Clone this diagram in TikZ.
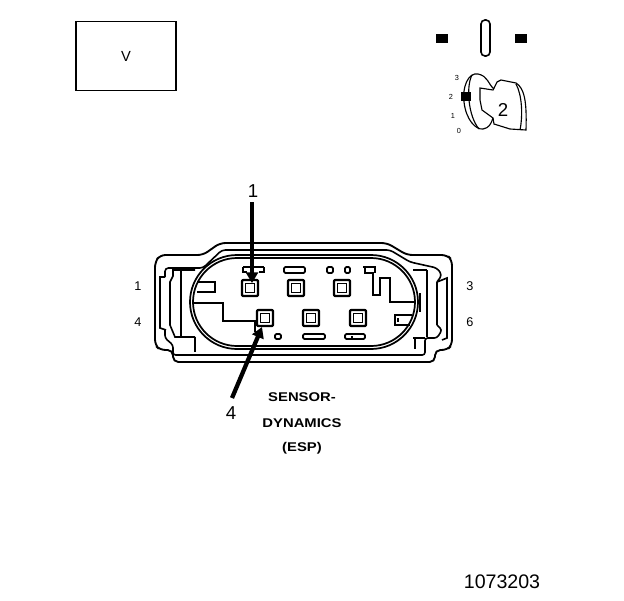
\documentclass[tikz,border=0pt]{standalone}
\usepackage{fontspec}
\setmainfont{Liberation Sans}
\usetikzlibrary{arrows.meta}
\tikzset{
 ln/.style={draw=black,line width=1.2pt,line join=miter,fill=none},
 thk/.style={draw=black,line width=1.7pt,line join=round},
 keyln/.style={draw=black,line width=0.85pt,fill=none},
 arrowline/.style={draw=black,line width=3.2pt,-{Triangle[length=8pt,width=9pt]}},
 pinlabel/.style={font=\fontsize{9.5}{12}\selectfont,inner sep=0pt},
 callout/.style={font=\fontsize{14}{16}\selectfont,inner sep=0pt},
 title/.style={font=\bfseries\fontsize{9.5}{11}\selectfont,inner sep=0pt,xscale=1.17},
 tiny/.style={font=\fontsize{5.5}{6}\selectfont,inner sep=0pt}
}
\newcommand{\pinbox}[2]{%
 \draw[thk,rounded corners=0.8pt] (#1-8,#2-8) rectangle (#1+8,#2+8);
 \draw[ln,line width=1pt] (#1-4.5,#2-4.5) rectangle (#1+4.5,#2+4.5);}
\begin{document}
\begin{tikzpicture}[x=0.75pt,y=-0.75pt]
\useasboundingbox (0,0) rectangle (624,600);
% V box
\node[draw=black,line width=0.9pt,minimum width=75pt,minimum height=52pt,inner sep=0pt,font=\fontsize{11}{13}\selectfont] (vbox) at (126,56) {V};
% key symbol
\fill (436,34) rectangle (448,43);
\fill (515,34) rectangle (527,43);
\draw[ln,rounded corners=3pt] (481,20) rectangle (490,56);
\draw[keyln] (494,89) .. controls (488,84) and (488,76) .. (478,74) .. controls (468,72) and (462,88) .. (464,102) .. controls (466,120) and (476,130) .. (483,129) .. controls (489,128) and (491,124) .. (493,118);
\draw[keyln] (472,75) .. controls (466,86) and (468,116) .. (479,129);
\draw[keyln] (480,88) -- (493,90) -- (497,82) -- (501,80) -- (516,83) .. controls (524,88) and (527,100) .. (526,130) -- (510,129) -- (494,124) -- (493,118) -- (482,110) -- (480,100) -- cycle;
\draw[keyln] (516,84) .. controls (522,95) and (523,115) .. (520,130);
\fill (461,92) rectangle (471,101);
\node[callout] (key2) at (503,110) {2};
\node[tiny] (k3) at (457,78) {3};
\node[tiny] (k2) at (451,97) {2};
\node[tiny] (k1) at (453,116) {1};
\node[tiny] (k0) at (459,131) {0};
% connector outer body
\draw[ln,line width=1.4pt,rounded corners=4pt] (155,262) -- (155,345) -- (160,350) -- (173,350) -- (173,362) -- (435,362) -- (435,350) -- (447,350) -- (452,345) -- (452,260) -- (447,255) -- (407,255) -- (387,243) -- (220,243) -- (203,255) -- (160,255) -- cycle;
% second outline
\draw[ln,rounded corners=2.5pt] (165,277) -- (165,268) -- (203,268) -- (222,250) -- (390,250) -- (410,262) -- (437,268) -- (442,275) -- (437,282);
\draw[ln,rounded corners=2pt] (437,325) -- (442,330) -- (437,338) -- (425,338) -- (425,355) -- (173,355) -- (173,345) -- (165,338) -- (165,330);
% left latch
\draw[ln] (165,277) -- (160,277) -- (160,328) -- (166,330);
\draw[ln] (195,270) -- (173,270) -- (173,276) -- (170,282) -- (170,325) -- (175,337) -- (195,337);
\draw[thk] (181,270) -- (181,337);
\draw[ln] (195,337) -- (195,352);
% right latch
\draw[thk] (427,270) -- (427,337);
\draw[ln] (413,270) -- (427,270);
\draw[ln] (413,338) -- (425,338) (415,338) -- (415,349);
\draw[ln] (437,282) -- (447,278) -- (447,338) -- (442,340) (437,282) -- (437,325);
\draw[ln] (420,293) -- (420,312);
% oval
\draw[ln,line width=1.3pt] (237,255) -- (371,255) arc[start angle=-90,end angle=90,radius=47] -- (237,349) arc[start angle=90,end angle=270,radius=47] -- cycle;
\draw[ln,line width=1.3pt] (237,258) -- (371,258) arc[start angle=-90,end angle=90,radius=44] -- (237,346) arc[start angle=90,end angle=270,radius=44] -- cycle;
% inner step walls
\draw[ln,line width=1.4pt] (198,282) -- (215,282) -- (215,292) -- (197,292);
\draw[ln,line width=1.4pt] (193,303) -- (223,303) -- (223,321) -- (255,321) -- (255,332);
\draw[ln,line width=1.4pt] (363,267) -- (375,267) -- (375,273) (365,267) -- (365,273) -- (373,273) -- (373,295) -- (380,295) -- (380,278) -- (390,278) -- (390,302) -- (414,302);
\draw[ln,line width=1.4pt] (394,315) -- (412,315) (395,315) -- (395,325) -- (410,325);
\draw[ln] (398,318) -- (398,322);
% pin boxes
\pinbox{250}{288}
\pinbox{296}{288}
\pinbox{342}{288}
\pinbox{265}{318}
\pinbox{311}{318}
\pinbox{358}{318}
% small slots
\draw[ln,line width=1.4pt] (243,267) -- (243,272) -- (247,272) (264,267) -- (264,272) -- (259,272) (243,267) -- (264,267);
\draw[ln,line width=1.4pt,rounded corners=1pt] (284,267) rectangle (305,273);
\draw[ln,line width=1.4pt,rounded corners=1pt] (327,267) rectangle (333,273);
\draw[ln,line width=1.4pt,rounded corners=1pt] (345,267) rectangle (350,273);
\draw[ln,line width=1.4pt,rounded corners=1pt] (275,334) rectangle (281,339);
\draw[ln,line width=1.4pt,rounded corners=1pt] (303,334) rectangle (325,339);
\draw[ln,line width=1.4pt,rounded corners=1pt] (345,334) rectangle (365,339);
\fill (351,336) rectangle (353,339);
% pin numbers
\node[pinlabel] (p1) at (138,286) {1};
\node[pinlabel] (p4) at (138,322) {4};
\node[pinlabel] (p3) at (470,286) {3};
\node[pinlabel] (p6) at (470,322) {6};
% callouts
\node[callout] (c1) at (253,191) {1};
\node[callout] (c4) at (231,413) {4};
\coordinate (a1) at (252,202);
\coordinate (t1) at (252,283);
\coordinate (a4) at (232,398);
\coordinate (t4) at (262,327);
\draw[arrowline] (a1) -- (t1);
\draw[arrowline] (a4) -- (t4);
% title
\node[title] (ta) at (302,397) {SENSOR-};
\node[title] (tb) at (302,423) {DYNAMICS};
\node[title] (tc) at (302,448) {(ESP)};
\node[font=\fontsize{14.7}{16}\selectfont,inner sep=0pt] (num) at (502,582) {1073203};
\end{tikzpicture}
\end{document}
